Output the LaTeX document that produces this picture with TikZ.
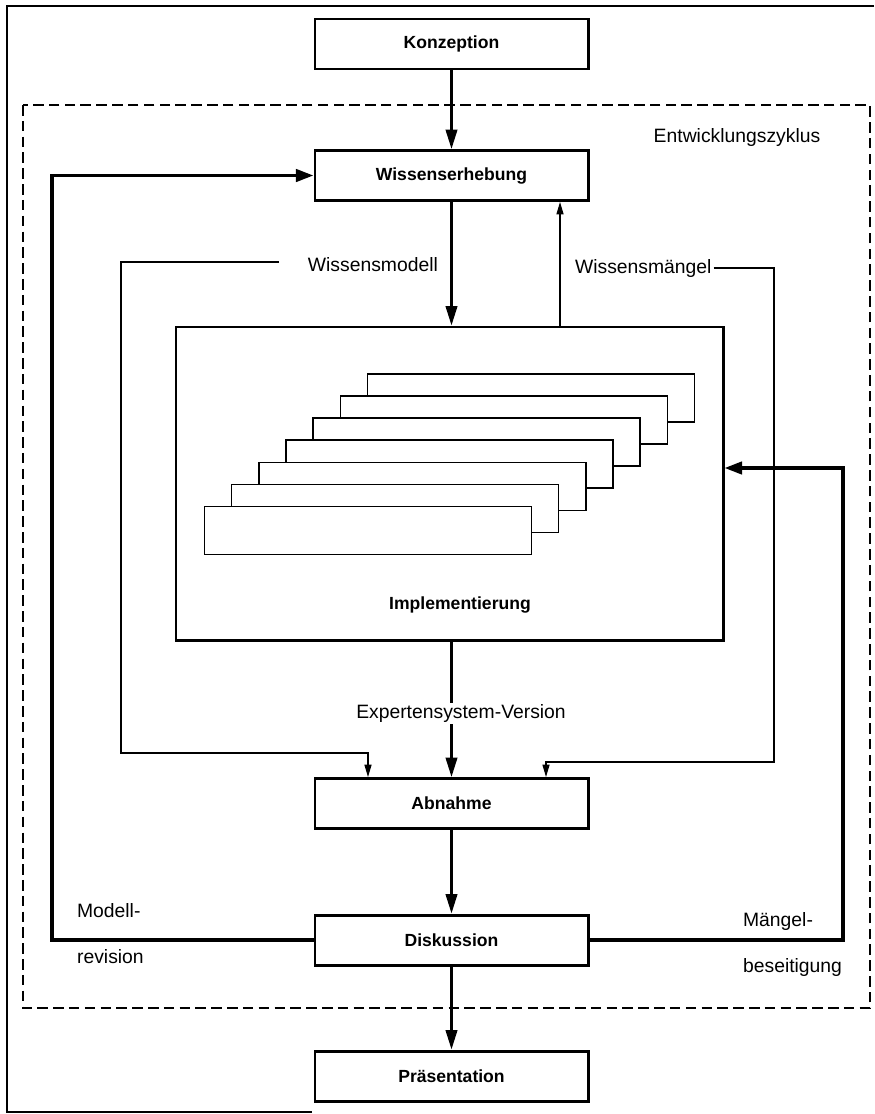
\documentclass[tikz,border=0pt]{standalone}
\usepackage{fontspec}
\setmainfont{Liberation Sans}
\usetikzlibrary{arrows.meta, positioning}

\begin{document}
\begin{tikzpicture}[
    phase/.style={draw, line width=1.7pt, minimum width=5.46cm, minimum height=1cm, font=\fontsize{10}{12}\selectfont\bfseries},
    blatt/.style={draw, line width=0.8pt, fill=white, minimum width=6.54cm, minimum height=0.96cm},
    fluss/.style={-{Triangle[length=11pt, width=6.5pt]}, line width=1.4pt},
    schleife/.style={-{Triangle[length=10pt, width=7pt]}, line width=2pt},
    fein/.style={-{Triangle[length=7pt, width=4pt]}, line width=0.6pt},
    etikett/.style={font=\fontsize{11}{13}\selectfont, inner sep=1pt}
]
    \useasboundingbox (0,0) rectangle (17.48,-22.28);

    % Rahmen
    \draw[line width=0.8pt] (17.48,-0.12) -- (0.14,-0.12) -- (0.14,-22.24) -- (6.24,-22.24);
    \draw[line width=0.8pt, dash pattern=on 6pt off 3pt] (0.46,-2.1) rectangle (17.4,-20.16);
    \node[etikett] (zyklus) at (14.74,-2.74) {Entwicklungszyklus};

    % Phasen
    \node[phase] (konz) at (9.03,-0.88) {Konzeption};
    \node[phase] (wiss) at (9.03,-3.51) {Wissenserhebung};
    \node[draw, line width=1.7pt, minimum width=10.94cm, minimum height=6.26cm] (impl) at (8.99,-9.67) {};
    \node[phase] (abn) at (9.03,-16.07) {Abnahme};
    \node[phase] (disk) at (9.03,-18.8) {Diskussion};
    \node[phase] (praes) at (9.03,-21.52) {Präsentation};

    % Versionen in der Implementierung
    \node[blatt] (v1) at (10.62,-7.96) {};
    \node[blatt] (v2) at (10.08,-8.40) {};
    \node[blatt] (v3) at (9.53,-8.84) {};
    \node[blatt] (v4) at (8.99,-9.28) {};
    \node[blatt] (v5) at (8.45,-9.73) {};
    \node[blatt] (v6) at (7.90,-10.17) {};
    \node[blatt] (v7) at (7.36,-10.61) {};
    \node[font=\fontsize{10}{12}\selectfont\bfseries] (impltext) at (9.2,-12.1) {Implementierung};

    % Hauptfluss
    \draw[fluss] (konz.south) -- (wiss.north);
    \draw[fluss] (wiss.south) -- (wiss.south |- impl.north);
    \node[etikett, anchor=east] (modell) at (8.8,-5.3) {Wissensmodell};
    \draw[fluss] (impl.south -| abn.north) -- node[etikett, fill=white, pos=0.53, xshift=0.19cm] (version) {Expertensystem-Version} (abn.north);
    \draw[fluss] (abn.south) -- (disk.north);
    \draw[fluss] (disk.south) -- (praes.north);

    % Wissensmaengel
    \coordinate (mup) at (11.2,-6.54);
    \draw[fein] (mup) -- (mup |- wiss.south);
    \node[etikett, anchor=west] (maengel) at (11.46,-5.36) {Wissensmängel};
    \coordinate (rein) at (10.92,-15.24);
    \draw[fein] (maengel.east) -| (15.48,-15.24) -- (rein) -- (rein |- abn.north);

    % Modell zur Abnahme
    \coordinate (mstart) at (5.58,-5.24);
    \coordinate (lein) at (7.36,-15.06);
    \draw[fein] (mstart) -| (2.42,-15.06) -- (lein) -- (lein |- abn.north);

    % Rueckkopplungen
    \coordinate (lk) at (1.04,-18.8);
    \draw[schleife] (disk.west) -- (lk) |- (wiss.west);
    \coordinate (rk) at (16.86,-9.36);
    \draw[schleife] (disk.east) -| (rk) -- (rk -| impl.east);
    \node[etikett, anchor=west] (mod1) at (1.5,-18.22) {Modell-};
    \node[etikett, anchor=west] (mod2) at (1.5,-19.14) {revision};
    \node[etikett, anchor=west] (mae1) at (14.82,-18.42) {Mängel-};
    \node[etikett, anchor=west] (mae2) at (14.82,-19.34) {beseitigung};
\end{tikzpicture}
\end{document}
